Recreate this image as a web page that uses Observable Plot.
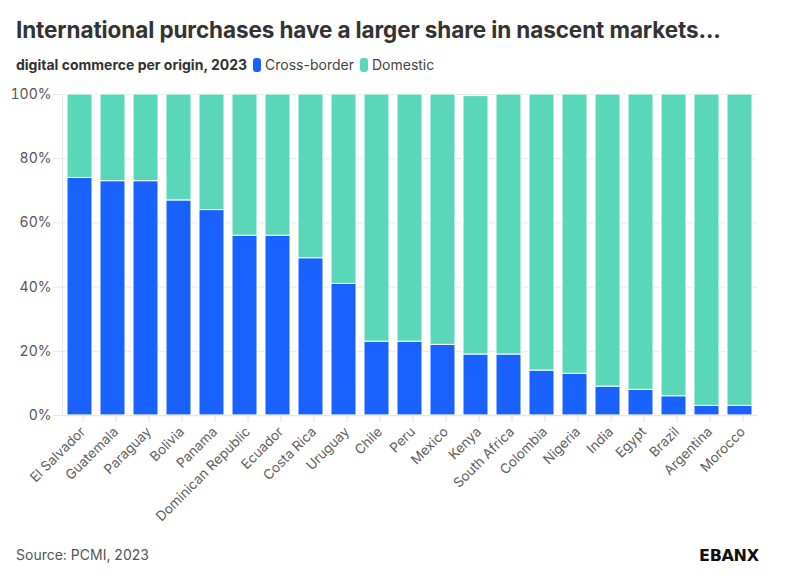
<!DOCTYPE html>
<html><head><meta charset="utf-8">
<script src="https://cdn.jsdelivr.net/npm/d3@7"></script>
<script src="https://cdn.jsdelivr.net/npm/@observablehq/plot@0.6"></script>
<style>
body{margin:0;background:#fff;font-family:Inter,"Noto Sans",sans-serif;width:786px;height:586px;position:relative;overflow:hidden}
#title{position:absolute;left:16px;top:16px;font-size:22.5px;font-weight:700;color:#333;white-space:nowrap;letter-spacing:-0.1px}
#sub{position:absolute;left:16px;top:56px;font-size:14px;color:#333;white-space:nowrap;display:flex;align-items:center}
#sub b{font-weight:700;margin-right:6px}
.sw{display:inline-block;width:8px;height:14px;border-radius:3px;margin-right:4px}
.lg{margin-right:6px;color:#444}
#chart{position:absolute;left:0;top:85px}
#src{position:absolute;left:16px;top:546px;font-size:14px;color:#555}
#logo{position:absolute;left:699px;top:546px;font-size:16px;font-weight:700;color:#111;letter-spacing:-0.3px;font-family:"DejaVu Sans",sans-serif}
</style></head>
<body>
<div id="title">International purchases have a larger share in nascent markets...</div>
<div id="sub"><b>digital commerce per origin, 2023</b><span class="sw" style="background:#1a62ff"></span><span class="lg">Cross-border</span><span class="sw" style="background:#5ad6b9"></span><span class="lg">Domestic</span></div>
<div id="chart"></div>
<div id="src">Source: PCMI, 2023</div>
<div id="logo">EBANX</div>
<script>
const countries = ["El Salvador","Guatemala","Paraguay","Bolivia","Panama","Dominican Republic","Ecuador","Costa Rica","Uruguay","Chile","Peru","Mexico","Kenya","South Africa","Colombia","Nigeria","India","Egypt","Brazil","Argentina","Morocco"];
const crossBorder = [74,73,73,67,64,56,56,49,41,23,23,22,19,19,14,13,9,8,6,3,3];
const domestic = [26,27,27,33,36,44,44,51,59,77,77,78,80.5,81,86,87,91,92,94,97,97];
const series = ["Cross-border","Domestic"];
const colors = ["#1a62ff","#5ad6b9"];
const yTicks = [0,20,40,60,80,100];

const data = [];
countries.forEach((c,i)=>{
  data.push({country:c, origin:series[0], value:crossBorder[i]});
  data.push({country:c, origin:series[1], value:domestic[i]});
});

const chart = Plot.plot({
  width:786, height:460,
  marginLeft:62, marginRight:29, marginTop:9, marginBottom:130,
  style:{fontFamily:"Inter, 'Noto Sans', sans-serif", fontSize:"14px", color:"#555", background:"transparent"},
  x:{domain:countries, range:[62,757], paddingInner:0.24, paddingOuter:0.02, label:null},
  y:{domain:[0,100], label:null},
  color:{domain:series, range:colors},
  marks:[
    Plot.ruleY(yTicks.slice(1), {stroke:"#e8e8e8", strokeWidth:1}),
    Plot.axisY(yTicks, {tickFormat:d=>d+"%", tickSize:9, stroke:"#e8e8e8", tickPadding:2, fill:"#555", label:null, fontSize:14}),
    Plot.frame({anchor:"left", stroke:"#e8e8e8"}),
    Plot.barY(data, Plot.stackY({order:series, x:"country", y:"value", fill:"origin", stroke:"#fff", strokeWidth:1})),
    Plot.ruleY([0], {stroke:"#e8e8e8", strokeWidth:1.5}),
    Plot.axisX({tickRotate:-45, tickSize:7, stroke:"#e0e0e0", fill:"#606060", tickPadding:7, dx:3, label:null, fontSize:13.5})
  ]
});
document.getElementById("chart").appendChild(chart);
</script>
</body></html>
